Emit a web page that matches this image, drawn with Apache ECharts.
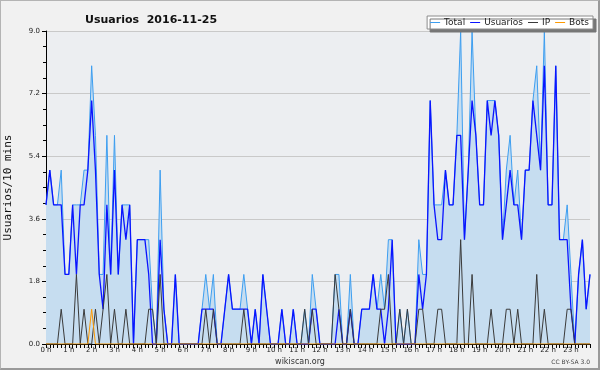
<!DOCTYPE html>
<html>
<head>
<meta charset="utf-8">
<script src="https://cdn.jsdelivr.net/npm/echarts@6/dist/echarts.min.js"></script>
<style>
html,body{margin:0;padding:0;background:#f1f1f1;}
#wrap{position:relative;width:600px;height:370px;}
#chart{position:absolute;left:0;top:0;width:600px;height:370px;}
#frame{position:absolute;left:0;top:0;width:600px;height:370px;box-sizing:border-box;border-top:1px solid #b4b4b4;border-left:1px solid #b4b4b4;border-right:2px solid #9a9a9a;border-bottom:2px solid #9a9a9a;pointer-events:none;}
</style>
</head>
<body>
<div id="wrap"><div id="chart"></div><div id="frame"></div></div>
<script>
// tick labels (one per hour)
var hourLabels = ['0 h','1 h','2 h','3 h','4 h','5 h','6 h','7 h','8 h','9 h','10 h','11 h','12 h','13 h','14 h','15 h','16 h','17 h','18 h','19 h','20 h','21 h','22 h','23 h'];
var yTicks = [0, 1.8, 3.6, 5.4, 7.2, 9.0];
var seriesNames = ['Total', 'Usuarios', 'IP', 'Bots'];

// values per 10 minutes (6 per hour)
var total = [
  4,5,4,4,5,2,  2,4,4,4,5,5,  8,6,2,2,6,2,  6,2,4,4,4,0,
  3,3,3,3,1,0,  5,1,0,0,2,0,  0,0,0,0,0,1,  2,1,2,0,0,1,
  2,1,1,1,2,1,  0,1,0,2,1,0,  0,0,1,0,0,1,  0,0,1,0,2,1,
  0,0,0,0,2,2,  0,0,2,0,0,1,  1,1,2,1,2,1,  3,3,0,1,0,1,
  0,0,3,2,2,7,  4,4,4,5,4,4,  6,9,3,5,9,6,  4,4,7,7,7,6,
  3,5,6,4,5,3,  5,5,7,8,5,9,  4,4,8,3,3,4,  2,0,2,3,1,2
];
var usuarios = [
  4,5,4,4,4,2,  2,4,2,4,4,5,  7,5,2,1,4,2,  5,2,4,3,4,0,
  3,3,3,2,0,0,  3,1,0,0,2,0,  0,0,0,0,0,1,  1,1,1,0,0,1,
  2,1,1,1,1,1,  0,1,0,2,1,0,  0,0,1,0,0,1,  0,0,0,0,1,1,
  0,0,0,0,0,1,  0,0,1,0,0,1,  1,1,2,1,1,0,  1,3,0,0,0,0,
  0,0,2,1,2,7,  4,3,3,5,4,4,  6,6,3,5,7,6,  4,4,7,6,7,6,
  3,4,5,4,4,3,  5,5,7,6,5,8,  4,4,8,3,3,3,  1,0,2,3,1,2
];
var ip = [
  0,0,0,0,1,0,  0,0,2,0,1,0,  0,1,0,1,2,0,  1,0,0,1,0,0,
  0,0,0,1,1,0,  2,0,0,0,0,0,  0,0,0,0,0,0,  1,0,1,0,0,0,
  0,0,0,0,1,0,  0,0,0,0,0,0,  0,0,0,0,0,0,  0,0,1,0,1,0,
  0,0,0,0,2,1,  0,0,1,0,0,0,  0,0,0,0,1,1,  2,0,0,1,0,1,
  0,0,1,1,0,0,  0,1,1,0,0,0,  0,3,0,0,2,0,  0,0,0,1,0,0,
  0,1,1,0,1,0,  0,0,0,2,0,1,  0,0,0,0,0,1,  1,0,0,0,0,0
];
var bots = [
  0,0,0,0,0,0,  0,0,0,0,0,0,  1,0,0,0,0,0,  0,0,0,0,0,0,
  0,0,0,0,0,0,  0,0,0,0,0,0,  0,0,0,0,0,0,  0,0,0,0,0,0,
  0,0,0,0,0,0,  0,0,0,0,0,0,  0,0,0,0,0,0,  0,0,0,0,0,0,
  0,0,0,0,0,0,  0,0,0,0,0,0,  0,0,0,0,0,0,  0,0,0,0,0,0,
  0,0,0,0,0,0,  0,0,0,0,0,0,  0,0,0,0,0,0,  0,0,0,0,0,0,
  0,0,0,0,0,0,  0,0,0,0,0,0,  0,0,0,0,0,0,  0,0,0,0,0,0
];

var categories = [];
for (var h = 0; h < 24; h++) {
  for (var m = 0; m < 60; m += 10) {
    categories.push(h + ':' + (m < 10 ? '0' + m : m));
  }
}

var chart = echarts.init(document.getElementById('chart'), null, {renderer: 'canvas'});
var font = 'DejaVu Sans';
chart.setOption({
  backgroundColor: '#f1f1f1',
  animation: false,
  title: {
    text: 'Usuarios  2016-11-25',
    left: 80, top: 10,
    textStyle: {fontFamily: font, fontSize: 11, fontWeight: 'bold', color: '#111'}
  },
  legend: {
    data: seriesNames,
    right: 7, top: 16,
    orient: 'horizontal',
    icon: 'rect',
    itemWidth: 10, itemHeight: 1,
    itemGap: 5,
    padding: [2, 4, 2, 3],
    backgroundColor: '#ffffff',
    borderColor: '#8c8c8c', borderWidth: 1,
    shadowColor: '#777777', shadowBlur: 0, shadowOffsetX: 3, shadowOffsetY: 3,
    textStyle: {fontFamily: font, fontSize: 9, color: '#222', padding: [0, 0, 0, -1]}
  },
  grid: {
    left: 46, right: 10, top: 31, bottom: 26,
    outerBoundsMode: 'none', containLabel: false,
    show: true, backgroundColor: '#eceef1', borderWidth: 0
  },
  xAxis: {
    type: 'category',
    data: categories,
    boundaryGap: false,
    axisLine: {lineStyle: {color: '#000', width: 1}},
    axisTick: {show: true, interval: 0, length: 4, lineStyle: {color: '#000'}},
    axisLabel: {
      interval: 5, margin: 3,
      fontFamily: font, fontSize: 7, color: '#222',
      formatter: function (v, idx) { return hourLabels[Math.floor(idx / 6)]; }
    },
    splitLine: {show: false}
  },
  yAxis: {
    type: 'value',
    min: yTicks[0], max: yTicks[yTicks.length - 1], interval: 1.8,
    name: 'Usuarios/10 mins',
    nameLocation: 'middle', nameGap: 32, nameRotate: 90,
    nameTextStyle: {fontFamily: 'DejaVu Sans Mono', fontSize: 11, color: '#111'},
    axisLine: {show: true, lineStyle: {color: '#000', width: 1}},
    axisTick: {show: true, length: 4, lineStyle: {color: '#000'}},
    minorTick: {show: true, splitNumber: 4, length: 3, lineStyle: {color: '#000'}},
    axisLabel: {
      margin: 6, fontFamily: font, fontSize: 7, color: '#222',
      formatter: function (v) { return v.toFixed(1); }
    },
    splitLine: {show: true, lineStyle: {color: '#c9c9c9', width: 1}}
  },
  graphic: [
    {type: 'text', left: 'center', top: 358, style: {text: 'wikiscan.org', fontFamily: font, fontSize: 8, fill: '#333'}},
    {type: 'text', right: 10, top: 359, style: {text: 'CC BY-SA 3.0', fontFamily: font, fontSize: 6, fill: '#444'}}
  ],
  series: [
    {name: 'Total', type: 'line', data: total, showSymbol: false, symbol: 'none',
     lineStyle: {color: '#3d9ef0', width: 1}, itemStyle: {color: '#3d9ef0'},
     areaStyle: {color: '#c6ddf0', opacity: 1}, z: 2},
    {name: 'Usuarios', type: 'line', data: usuarios, showSymbol: false, symbol: 'none',
     lineStyle: {color: '#0a14ff', width: 1.3}, itemStyle: {color: '#0a14ff'}, z: 3},
    {name: 'IP', type: 'line', data: ip, showSymbol: false, symbol: 'none',
     lineStyle: {color: '#3a3a3a', width: 1}, itemStyle: {color: '#3a3a3a'}, z: 4},
    {name: 'Bots', type: 'line', data: bots, showSymbol: false, symbol: 'none',
     lineStyle: {color: '#ff9a00', width: 1}, itemStyle: {color: '#ff9a00'}, z: 5}
  ]
});
</script>
</body>
</html>
